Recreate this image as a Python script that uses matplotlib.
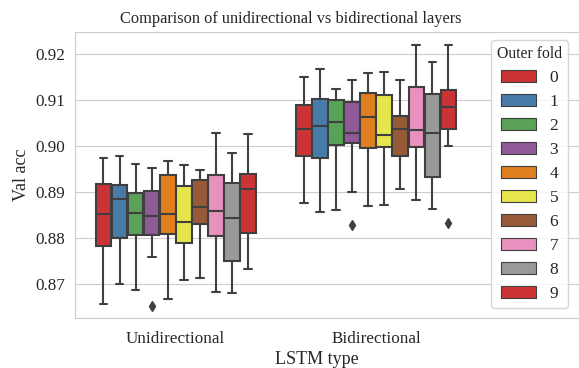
import matplotlib
matplotlib.use("Agg")
import matplotlib.pyplot as plt
import matplotlib.patches as mpatches
import seaborn as sns

sns.set_style("whitegrid")
plt.rcParams['font.family'] = ['Liberation Serif', 'DejaVu Serif']

lstm_types = ['Unidirectional', 'Bidirectional']
folds = [str(i) for i in range(10)]

# box stats per fold: [unidirectional, bidirectional]
whislo = [
    [0.8657, 0.8700, 0.8687, 0.8758, 0.8667, 0.8709, 0.8712, 0.8682, 0.8680, 0.8732],
    [0.8876, 0.8857, 0.8861, 0.8900, 0.8870, 0.8872, 0.8907, 0.8883, 0.8862, 0.9001],
]
q1 = [
    [0.8782, 0.8799, 0.8806, 0.8807, 0.8809, 0.8790, 0.8830, 0.8805, 0.8749, 0.8811],
    [0.8978, 0.8975, 0.9002, 0.9007, 0.8996, 0.8999, 0.8979, 0.8998, 0.8933, 0.9037],
]
med = [
    [0.8853, 0.8885, 0.8854, 0.8848, 0.8851, 0.8834, 0.8868, 0.8859, 0.8844, 0.8907],
    [0.9038, 0.9044, 0.9053, 0.9028, 0.9064, 0.9023, 0.9037, 0.9035, 0.9028, 0.9084],
]
q3 = [
    [0.8917, 0.8915, 0.8898, 0.8902, 0.8936, 0.8913, 0.8926, 0.8936, 0.8920, 0.8940],
    [0.9090, 0.9103, 0.9100, 0.9096, 0.9115, 0.9111, 0.9066, 0.9129, 0.9114, 0.9121],
]
whishi = [
    [0.8973, 0.8979, 0.8960, 0.8952, 0.8967, 0.8959, 0.8948, 0.9028, 0.8985, 0.9026],
    [0.9151, 0.9167, 0.9124, 0.9144, 0.9158, 0.9161, 0.9143, 0.9220, 0.9183, 0.9220],
]
fliers = [
    [[], [], [], [0.8652], [], [], [], [], [], []],
    [[], [], [], [0.8828], [], [], [], [], [], [0.8833]],
]

# seaborn boxplot look: Set1 cycled to 10 hues, saturation 0.75
palette = [sns.desaturate(c, 0.75) for c in sns.color_palette("Set1", 10)]
line_color = '#3f3f3f'

fig, ax = plt.subplots(figsize=(5.79, 3.68), dpi=100)

n = len(folds)
each_w = 0.8 / n
for g in range(len(lstm_types)):
    for k in range(n):
        pos = g - 0.4 + each_w / 2 + k * each_w
        stats = [{
            'whislo': whislo[g][k], 'q1': q1[g][k], 'med': med[g][k],
            'q3': q3[g][k], 'whishi': whishi[g][k], 'fliers': fliers[g][k],
        }]
        ax.bxp(stats, positions=[pos], widths=each_w * 0.98,
               patch_artist=True, manage_ticks=False,
               boxprops=dict(facecolor=palette[k], edgecolor=line_color, linewidth=1.5),
               medianprops=dict(color=line_color, linewidth=1.5),
               whiskerprops=dict(color=line_color, linewidth=1.5),
               capprops=dict(color=line_color, linewidth=1.5),
               flierprops=dict(marker='d', markerfacecolor=line_color,
                               markeredgecolor=line_color, markersize=5))

ax.set_xticks(range(len(lstm_types)))
ax.set_xticklabels(lstm_types)
ax.set_xlim(-0.502, 2.025)
ax.set_ylim(0.8625, 0.9249)
ax.set_yticks([0.87, 0.88, 0.89, 0.90, 0.91, 0.92])
ax.grid(False, axis='x')
ax.tick_params(labelsize=12.3)
ax.tick_params(axis='x', pad=5.5)
ax.set_xlabel('LSTM type', fontsize=13)
ax.xaxis.set_label_coords(0.477, -0.115)
ax.set_ylabel('Val acc', fontsize=13)
title = ax.set_title('Comparison of unidirectional vs bidirectional layers', fontsize=11.8)
title.set_x(0.426)

handles = [mpatches.Patch(facecolor=palette[k], edgecolor=line_color, linewidth=0.8, label=folds[k])
           for k in range(n)]
ax.legend(handles=handles, title='Outer fold', loc='upper right', fontsize=12.5,
          title_fontsize=11.3, labelspacing=0.45, borderpad=0.35,
          bbox_to_anchor=(577 / 579, 1 - 31.7 / 368), bbox_transform=fig.transFigure)

# the frame runs off the right edge of the picture
fig.subplots_adjust(left=0.1295, right=1.005, top=0.914, bottom=0.135)
fig.savefig('out.png', dpi=100)
